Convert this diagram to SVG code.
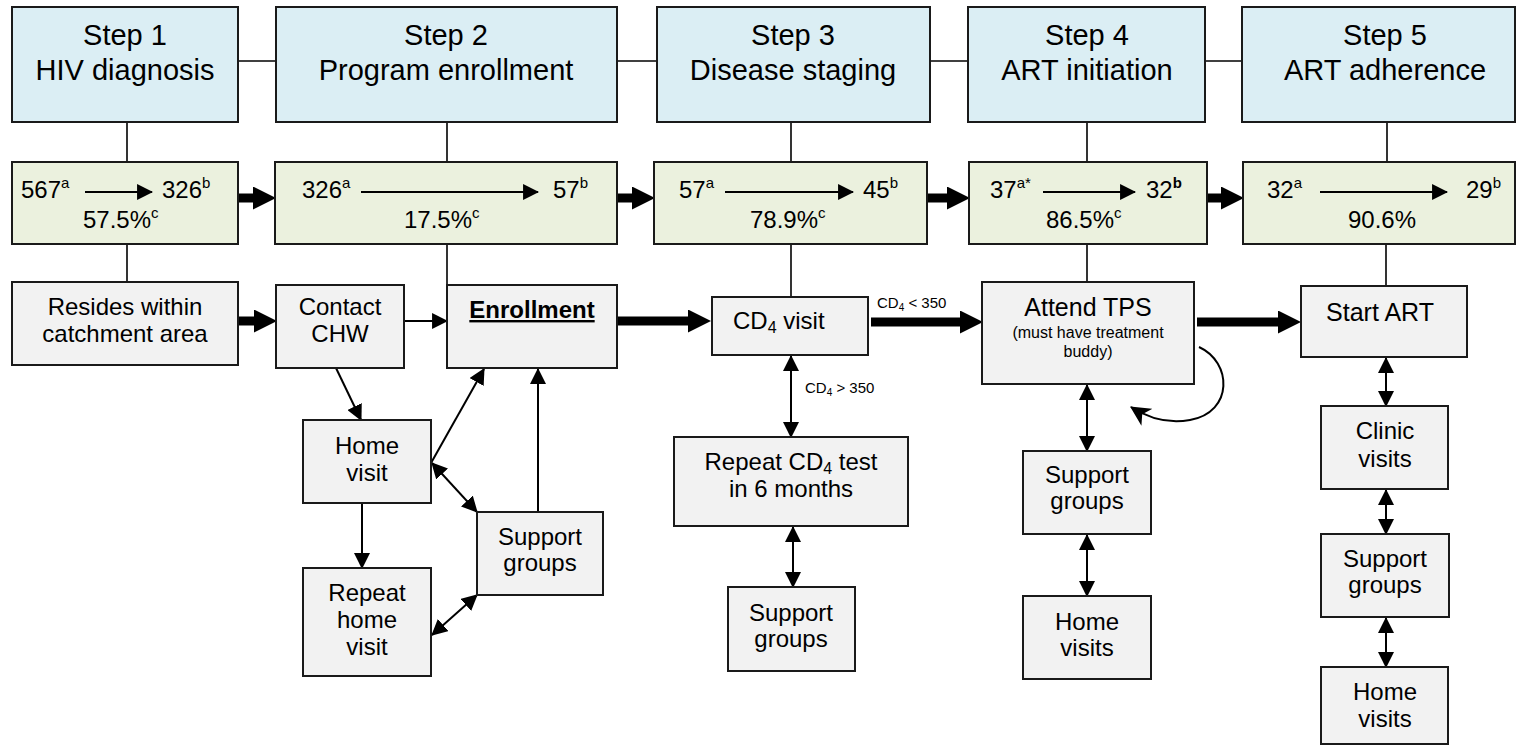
<svg xmlns="http://www.w3.org/2000/svg" width="1516" height="748" viewBox="0 0 1516 748">
<style>
text{font-family:"Liberation Sans",Arial,sans-serif;fill:#000}
.step rect{fill:#dbeef4;stroke:#1a1a1a;stroke-width:2}
.cnt rect{fill:#ebf1de;stroke:#1a1a1a;stroke-width:2}
.box rect{fill:#f2f2f2;stroke:#1a1a1a;stroke-width:2}
.t28{font-size:29px;text-anchor:middle}
.t24{font-size:24px}
.c{text-anchor:middle}
.sup{font-size:15px}
.ln{stroke:#000;stroke-width:1.6;fill:none}
.ar{stroke:#000;stroke-width:2;fill:none;marker-end:url(#ah)}
.dar{stroke:#000;stroke-width:2;fill:none;marker-end:url(#ah);marker-start:url(#ah)}
.thk{stroke:#000;stroke-width:9;fill:none;marker-end:url(#th)}
</style>
<defs>
<marker id="ah" markerUnits="userSpaceOnUse" markerWidth="16" markerHeight="16" viewBox="0 0 15 15" refX="14" refY="7.5" orient="auto-start-reverse"><path d="M0,0 L15,7.5 L0,15 Z" fill="#000"/></marker>
<marker id="ahb" markerUnits="userSpaceOnUse" markerWidth="20" markerHeight="20" viewBox="0 0 18 18" refX="17" refY="9" orient="auto"><path d="M0,0 L18,9 L0,18 L5,9 Z" fill="#000"/></marker>
<marker id="th" markerUnits="userSpaceOnUse" markerWidth="23" markerHeight="23" viewBox="0 0 22 22" refX="0" refY="11" orient="auto"><path d="M0,0 L22,11 L0,22 Z" fill="#000"/></marker>
</defs>

<g id="connectors">
<line class="ln" x1="238" y1="61" x2="276" y2="61"/>
<line class="ln" x1="617" y1="61" x2="657" y2="61"/>
<line class="ln" x1="930" y1="61" x2="968" y2="61"/>
<line class="ln" x1="1205" y1="61" x2="1242" y2="61"/>
<line class="ln" x1="127" y1="122" x2="127" y2="162"/>
<line class="ln" x1="447" y1="122" x2="447" y2="162"/>
<line class="ln" x1="791" y1="122" x2="791" y2="162"/>
<line class="ln" x1="1087" y1="122" x2="1087" y2="162"/>
<line class="ln" x1="1387" y1="122" x2="1387" y2="162"/>
<line class="ln" x1="127" y1="244" x2="127" y2="282"/>
<line class="ln" x1="447" y1="244" x2="447" y2="285"/>
<line class="ln" x1="791" y1="244" x2="791" y2="297"/>
<line class="ln" x1="1087" y1="244" x2="1087" y2="282"/>
<line class="ln" x1="1386" y1="244" x2="1386" y2="286"/>
<line class="thk" x1="238" y1="198" x2="253" y2="198"/>
<line class="thk" x1="617" y1="198" x2="632" y2="198"/>
<line class="thk" x1="927" y1="198" x2="947" y2="198"/>
<line class="thk" x1="1207" y1="198" x2="1221" y2="198"/>
<line class="thk" x1="238" y1="321" x2="254" y2="321"/>
<line class="ar" x1="404" y1="321" x2="447" y2="321"/>
<line class="ar" x1="336" y1="368" x2="361" y2="420"/>
<line class="ar" x1="431" y1="463" x2="484" y2="369"/>
<line class="dar" x1="432" y1="463" x2="477" y2="512"/>
<line class="ar" x1="362" y1="503" x2="362" y2="568"/>
<line class="dar" x1="432" y1="635" x2="477" y2="595"/>
<line class="ar" x1="538" y1="512" x2="538" y2="369"/>
<line class="thk" x1="618" y1="321" x2="688" y2="321"/>
<line class="thk" x1="871" y1="322" x2="960" y2="322"/>
<line class="dar" x1="791" y1="356" x2="791" y2="437"/>
<line class="dar" x1="793" y1="527" x2="793" y2="587"/>
<line class="dar" x1="1087" y1="385" x2="1087" y2="451"/>
<line class="dar" x1="1087" y1="535" x2="1087" y2="596"/>
<line class="thk" x1="1197" y1="322" x2="1278" y2="322"/>
<path d="M1199,347 C1232,362 1234,412 1190,420 C1168,424 1148,418 1131,407" stroke="#000" stroke-width="2" fill="none" marker-end="url(#ahb)"/>
<line class="dar" x1="1386" y1="358" x2="1386" y2="406"/>
<line class="dar" x1="1386" y1="490" x2="1386" y2="534"/>
<line class="dar" x1="1386" y1="618" x2="1386" y2="667"/>
<text x="877" y="308" font-size="15">CD<tspan font-size="10" dy="3">4</tspan><tspan dy="-3"> &lt; 350</tspan></text>
<text x="805" y="393" font-size="15">CD<tspan font-size="10" dy="3">4</tspan><tspan dy="-3"> &gt; 350</tspan></text>
</g>

<g id="step1" class="step"><rect x="12" y="7" width="226" height="115"/><text class="t28" x="125" y="45">Step 1</text><text class="t28" x="125" y="80">HIV diagnosis</text></g>
<g id="step2" class="step"><rect x="276" y="7" width="341" height="115"/><text class="t28" x="446" y="45">Step 2</text><text class="t28" x="446" y="80">Program enrollment</text></g>
<g id="step3" class="step"><rect x="657" y="7" width="273" height="115"/><text class="t28" x="793" y="45">Step 3</text><text class="t28" x="793" y="80">Disease staging</text></g>
<g id="step4" class="step"><rect x="968" y="7" width="237" height="115"/><text class="t28" x="1087" y="45">Step 4</text><text class="t28" x="1087" y="80">ART initiation</text></g>
<g id="step5" class="step"><rect x="1242" y="7" width="273" height="115"/><text class="t28" x="1385" y="45">Step 5</text><text class="t28" x="1385" y="80">ART adherence</text></g>

<g id="count1" class="cnt"><rect x="12" y="162" width="226" height="82"/>
<text class="t24" x="21" y="198">567<tspan class="sup" dy="-10">a</tspan></text>
<line class="ar" x1="85" y1="192" x2="152" y2="192"/>
<text class="t24" x="162" y="198">326<tspan class="sup" dy="-10">b</tspan></text>
<text class="t24" x="83" y="228">57.5%<tspan class="sup" dy="-10">c</tspan></text></g>
<g id="count2" class="cnt"><rect x="275" y="162" width="342" height="82"/>
<text class="t24" x="302" y="198">326<tspan class="sup" dy="-10">a</tspan></text>
<line class="ar" x1="361" y1="192" x2="538" y2="192"/>
<text class="t24" x="553" y="198">57<tspan class="sup" dy="-10">b</tspan></text>
<text class="t24" x="404" y="228">17.5%<tspan class="sup" dy="-10">c</tspan></text></g>
<g id="count3" class="cnt"><rect x="654" y="162" width="273" height="82"/>
<text class="t24" x="679" y="198">57<tspan class="sup" dy="-10">a</tspan></text>
<line class="ar" x1="725" y1="192" x2="853" y2="192"/>
<text class="t24" x="863" y="198">45<tspan class="sup" dy="-10">b</tspan></text>
<text class="t24" x="750" y="228">78.9%<tspan class="sup" dy="-10">c</tspan></text></g>
<g id="count4" class="cnt"><rect x="969" y="162" width="238" height="82"/>
<text class="t24" x="990" y="198">37<tspan class="sup" dy="-10">a*</tspan></text>
<line class="ar" x1="1043" y1="192" x2="1135" y2="192"/>
<text class="t24" x="1146" y="198">32<tspan class="sup" dy="-10" font-weight="bold">b</tspan></text>
<text class="t24" x="1046" y="228">86.5%<tspan class="sup" dy="-10">c</tspan></text></g>
<g id="count5" class="cnt"><rect x="1243" y="162" width="272" height="82"/>
<text class="t24" x="1267" y="198">32<tspan class="sup" dy="-10">a</tspan></text>
<line class="ar" x1="1320" y1="192" x2="1447" y2="192"/>
<text class="t24" x="1466" y="198">29<tspan class="sup" dy="-10">b</tspan></text>
<text class="t24" x="1348" y="228">90.6%</text></g>

<g id="resides" class="box"><rect x="12" y="282" width="226" height="83"/><text class="t24 c" x="125" y="315">Resides within</text><text class="t24 c" x="125" y="342">catchment area</text></g>
<g id="contact" class="box"><rect x="276" y="285" width="128" height="83"/><text class="t24 c" x="340" y="315">Contact</text><text class="t24 c" x="340" y="342">CHW</text></g>
<g id="enrollment" class="box"><rect x="447" y="285" width="170" height="83"/><text class="t24 c" x="532" y="318" font-weight="bold" text-decoration="underline">Enrollment</text></g>
<g id="homevisit" class="box"><rect x="303" y="420" width="128" height="83"/><text class="t24 c" x="367" y="454">Home</text><text class="t24 c" x="367" y="481">visit</text></g>
<g id="repeathome" class="box"><rect x="303" y="568" width="128" height="108"/><text class="t24 c" x="367" y="601">Repeat</text><text class="t24 c" x="367" y="628">home</text><text class="t24 c" x="367" y="655">visit</text></g>
<g id="support2" class="box"><rect x="477" y="512" width="126" height="83"/><text class="t24 c" x="540" y="545">Support</text><text class="t24 c" x="540" y="571">groups</text></g>
<g id="cd4visit" class="box"><rect x="712" y="297" width="156" height="58"/><text class="t24" x="733" y="329">CD<tspan font-size="16" dy="4">4</tspan><tspan dy="-4"> visit</tspan></text></g>
<g id="repeatcd4" class="box"><rect x="674" y="437" width="234" height="89"/><text class="t24 c" x="791" y="470">Repeat CD<tspan font-size="16" dy="4">4</tspan><tspan dy="-4"> test</tspan></text><text class="t24 c" x="791" y="497">in 6 months</text></g>
<g id="support3" class="box"><rect x="728" y="587" width="127" height="84"/><text class="t24 c" x="791" y="621">Support</text><text class="t24 c" x="791" y="647">groups</text></g>
<g id="attendtps" class="box"><rect x="982" y="282" width="212" height="102"/><text class="c" x="1088" y="316" font-size="25">Attend TPS</text><text class="c" x="1088" y="338" font-size="16">(must have treatment</text><text class="c" x="1088" y="357" font-size="16">buddy)</text></g>
<g id="support4" class="box"><rect x="1023" y="451" width="128" height="83"/><text class="t24 c" x="1087" y="483">Support</text><text class="t24 c" x="1087" y="509">groups</text></g>
<g id="homevisits4" class="box"><rect x="1023" y="596" width="128" height="83"/><text class="t24 c" x="1087" y="630">Home</text><text class="t24 c" x="1087" y="656">visits</text></g>
<g id="startart" class="box"><rect x="1301" y="286" width="166" height="71"/><text class="c" x="1380" y="321" font-size="25">Start ART</text></g>
<g id="clinic" class="box"><rect x="1321" y="406" width="127" height="83"/><text class="t24 c" x="1385" y="439">Clinic</text><text class="t24 c" x="1385" y="467">visits</text></g>
<g id="support5" class="box"><rect x="1321" y="534" width="128" height="83"/><text class="t24 c" x="1385" y="567">Support</text><text class="t24 c" x="1385" y="593">groups</text></g>
<g id="homevisits5" class="box"><rect x="1321" y="667" width="127" height="77"/><text class="t24 c" x="1385" y="700">Home</text><text class="t24 c" x="1385" y="727">visits</text></g>
</svg>
